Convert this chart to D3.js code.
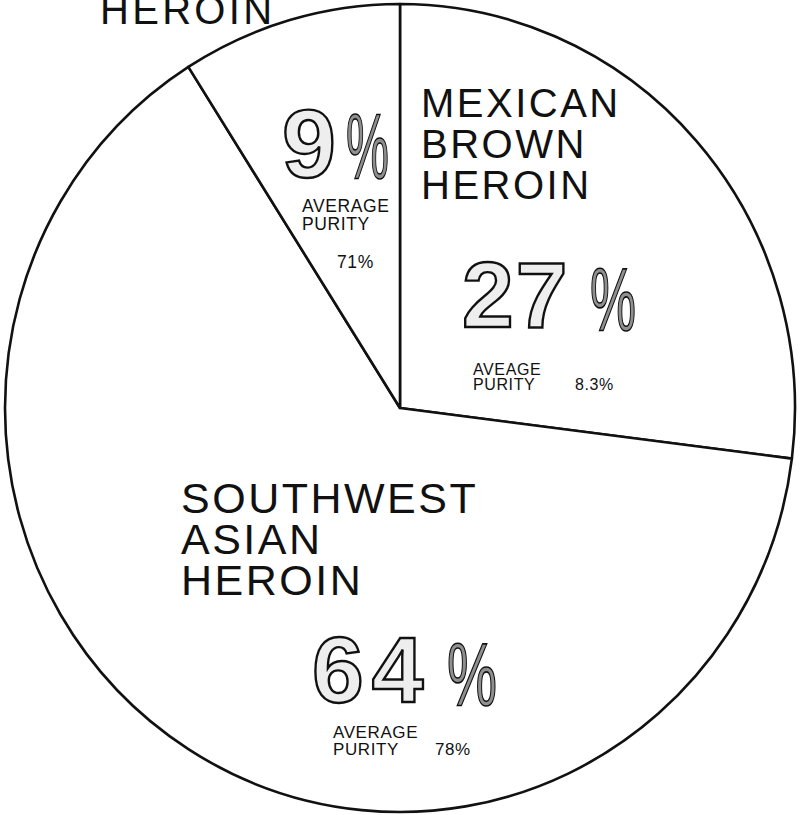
<!DOCTYPE html>
<html>
<head>
<meta charset="utf-8">
<script src="https://cdn.jsdelivr.net/npm/d3@7"></script>
<style>
  html, body { margin: 0; padding: 0; background: #fff; }
  svg { display: block; }
  text { font-family: "Liberation Sans", Arial, sans-serif; fill: #111; }
</style>
</head>
<body>
<svg id="chart" width="803" height="815"></svg>
<script>
// ---- data ----
const categories = ["Mexican Brown Heroin", "Southwest Asian Heroin", "Southeast Asian Heroin"];
const shares = [27, 64, 9];
const nameLines = [["MEXICAN", "BROWN", "HEROIN"], ["SOUTHWEST", "ASIAN", "HEROIN"], ["HEROIN"]];
const purityWords = [["AVEAGE", "PURITY"], ["AVERAGE", "PURITY"], ["AVERAGE", "PURITY"]];
const purityValues = ["8.3%", "78%", "71%"];

// ---- layout (positions only) ----
const W = 803, H = 815;
const cx = 400, cy = 408, ry = 404, rx = 395;
const layout = [
  { name: { x: 421, y: 117, dy: 41, fs: 40, ls: 2.5 },
    big: { x: 462, y: 327, fs: 93, ls: 2 }, pct: { x: 590, y: 330, w: 46 },
    pw: { x: 473, y: 375, dy: 15, fs: 16 }, pv: { x: 575, y: 390 } },
  { name: { x: 181, y: 513, dy: 41, fs: 43, ls: 2.5 },
    big: { x: 312, y: 702, fs: 93, ls: 8 }, pct: { x: 447, y: 705, w: 50 },
    pw: { x: 333, y: 738, dy: 17, fs: 17 }, pv: { x: 435, y: 755 } },
  { name: { x: 100, y: 24, dy: 41, fs: 40, ls: 3.3 },
    big: { x: 282, y: 177, fs: 97, ls: 0 }, pct: { x: 346, y: 178, w: 43 },
    pw: { x: 302, y: 212, dy: 18, fs: 17.5 }, pv: { x: 337, y: 268 } }
];

const svg = d3.select("#chart");
svg.append("rect").attr("width", W).attr("height", H).attr("fill", "#fff");

const pieData = d3.pie().sort(null).value(d => d)(shares);
const arc = d3.arc().innerRadius(0).outerRadius(ry);

const g = svg.append("g")
  .attr("transform", `translate(${cx},${cy}) scale(${rx / ry},1)`);

g.selectAll("path.slice")
  .data(pieData)
  .join("path")
  .attr("class", "slice")
  .attr("d", arc)
  .attr("fill", "#fff")
  .attr("stroke", "#111")
  .attr("stroke-width", 2.6)
  .attr("stroke-linejoin", "round")
  .attr("vector-effect", "non-scaling-stroke");

// ---- labels ----
pieData.forEach((d, i) => {
  const L = layout[i];
  // category name
  const t = svg.append("text")
    .attr("x", L.name.x).attr("y", L.name.y)
    .attr("font-size", L.name.fs)
    .style("letter-spacing", L.name.ls + "px");
  nameLines[i].forEach((line, j) => {
    t.append("tspan").attr("x", L.name.x).attr("y", L.name.y + j * L.name.dy).text(line);
  });

  // big outlined share number
  svg.append("text")
    .attr("x", L.big.x).attr("y", L.big.y)
    .attr("font-size", L.big.fs)
    .attr("font-weight", "bold")
    .style("letter-spacing", L.big.ls + "px")
    .style("fill", "#eeeeee")
    .attr("stroke", "#111")
    .attr("stroke-width", 2.4)
    .text(String(d.data));

  // percent sign
  svg.append("text")
    .attr("x", L.pct.x).attr("y", L.pct.y)
    .attr("font-size", L.big.fs * 0.95)
    .attr("textLength", L.pct.w)
    .attr("lengthAdjust", "spacingAndGlyphs")
    .style("fill", "#8f8f8f")
    .attr("stroke", "#111")
    .attr("stroke-width", 1.6)
    .text("%");

  // average purity
  purityWords[i].forEach((w, j) => {
    svg.append("text")
      .attr("x", L.pw.x).attr("y", L.pw.y + j * L.pw.dy)
      .attr("font-size", L.pw.fs)
      .style("letter-spacing", "0.6px")
      .text(w);
  });
  svg.append("text")
    .attr("x", L.pv.x).attr("y", L.pv.y)
    .attr("font-size", L.pw.fs)
    .style("letter-spacing", "0.6px")
    .text(purityValues[i]);
});
</script>
</body>
</html>
